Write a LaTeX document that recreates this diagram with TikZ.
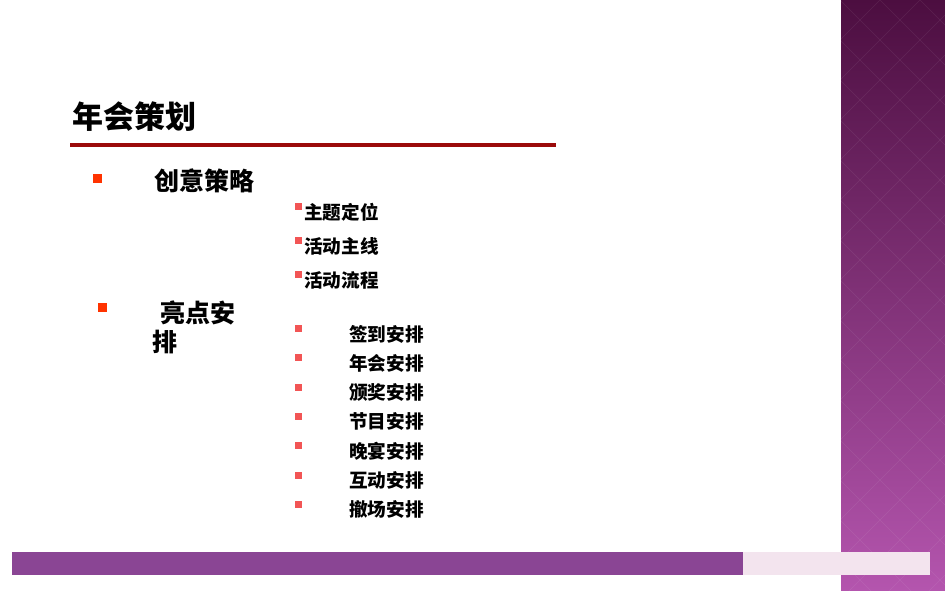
\documentclass[tikz,border=0pt]{standalone}
\usepackage{fontspec}
\setmainfont{Noto Sans CJK SC}
\definecolor{barpurple}{HTML}{8A4594}
\definecolor{barpink}{HTML}{F3E4EE}
\definecolor{titlered}{HTML}{9B0A0A}
\definecolor{bulletred}{HTML}{FF3300}
\definecolor{subred}{HTML}{F25555}
\definecolor{striptop}{HTML}{4C0E40}
\definecolor{stripbot}{HTML}{B455AE}
\begin{document}
\begin{tikzpicture}[x=1pt,y=-1pt,
  every node/.style={inner sep=0pt, anchor=west, font=\bfseries},
  mainbullet/.style={fill=bulletred},
  subbullet/.style={fill=subred},
  head/.style={font=\fontsize{25}{30}\selectfont\bfseries},
  item/.style={font=\fontsize{18.6}{22}\selectfont\bfseries}
]
\useasboundingbox (0,0) rectangle (945,591);

% right strip
\shade[top color=striptop, bottom color=stripbot] (841,0) rectangle (945,591);
\begin{scope}
  \clip (841,0) rectangle (945,591);
  \foreach \r in {0,...,14} {
    \foreach \c in {0,...,3} {
      \draw[white, opacity=0.08] ({840+\c*40},{\r*40}) -- ++(20,20) -- ++(-20,20) -- ++(-20,-20) -- cycle;
    }
  }
\end{scope}

% bottom bars
\fill[barpurple] (12,552) rectangle (743,575);
\fill[barpink] (743,552) rectangle (930,575);

% title
\node[font=\fontsize{31}{36}\selectfont\bfseries] (title) at (72,117) {年会策划};
\draw[titlered, line width=4pt] (70,145) -- (556,145);

% section 1
\fill[mainbullet] (93,174) rectangle (102,183);
\node[head] (sec1) at (154,181) {创意策略};
\foreach \t [count=\i] in {主题定位,活动主线,活动流程} {
  \fill[subbullet] (295,{203+(\i-1)*34}) rectangle (302,{210+(\i-1)*34});
  \node[item] (s1\i) at (304,{212+(\i-1)*34}) {\t};
}

% section 2
\fill[mainbullet] (98,303) rectangle (107,312);
\node[head] (sec2a) at (160,313) {亮点安};
\node[head] (sec2b) at (152,342) {排};
\foreach \t [count=\i] in {签到安排,年会安排,颁奖安排,节目安排,晚宴安排,互动安排,撤场安排} {
  \fill[subbullet] (295,{325+(\i-1)*29.3}) rectangle (302,{332+(\i-1)*29.3});
  \node[item] (s2\i) at (349,{334+(\i-1)*29.3}) {\t};
}
\end{tikzpicture}
\end{document}
